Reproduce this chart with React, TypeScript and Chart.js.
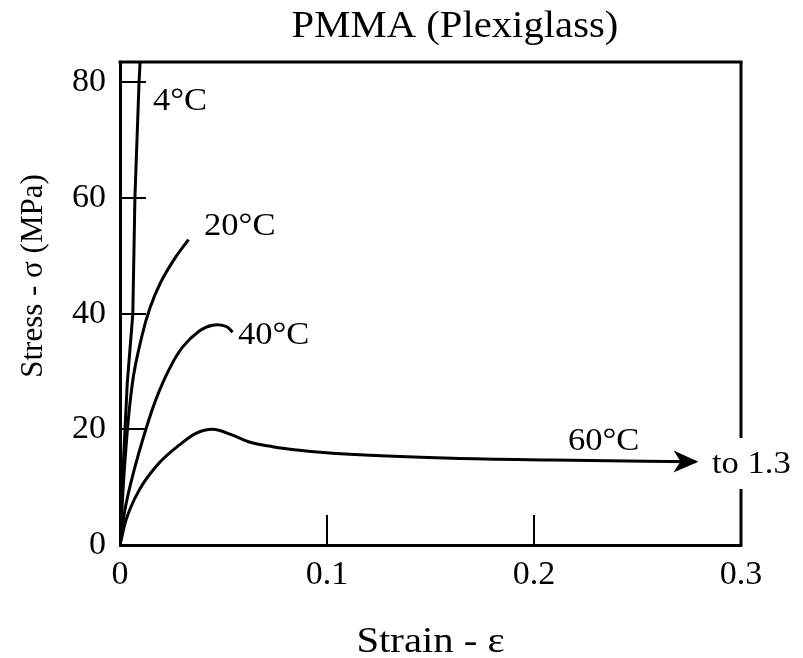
import React, { useEffect, useRef } from 'react';
import { Chart, registerables } from 'chart.js';

Chart.register(...registerables);

const FONT = "'Liberation Serif', 'Times New Roman', serif";

const chartTitle = 'PMMA (Plexiglass)';
const xAxisTitle = 'Strain - ε';
const yAxisTitle = 'Stress - σ (MPa)';

const xTickValues = [0, 0.1, 0.2, 0.3];
const xTickLabels = ['0', '0.1', '0.2', '0.3'];
const yTickValues = [0, 20, 40, 60, 80];
const yTickLabels = ['0', '20', '40', '60', '80'];
const xMax = 0.3;
const yMax = 83.5;

// 4 °C
const strain4C = [0, 0.0012, 0.0035, 0.0062, 0.0072, 0.0092, 0.0097];
const stress4C = [0, 11, 28, 40, 60, 80, 83.5];
// 20 °C
const strain20C = [0, 0.0025, 0.006, 0.0105, 0.0145, 0.0195, 0.026, 0.0331];
const stress20C = [0, 15, 28, 36, 41, 45.3, 49.3, 52.8];
// 40 °C
const strain40C = [0, 0.0025, 0.0065, 0.0125, 0.0175, 0.0235, 0.0302, 0.0383, 0.0447, 0.0512, 0.0544];
const stress40C = [0, 6.3, 12.5, 20, 25.3, 30.2, 34.2, 37, 38, 37.8, 36.8];
// 60 °C (continues "to 1.3")
const strain60C = [0, 0.0029, 0.0093, 0.019, 0.0287, 0.0367, 0.0447, 0.0544, 0.0625, 0.0737, 0.0866, 0.111, 0.1605, 0.209, 0.278];
const stress60C = [0, 4.3, 9.5, 14.2, 17.3, 19.3, 20, 19, 17.8, 17, 16.4, 15.7, 15, 14.7, 14.4];

// curve labels: text, anchor strain (left edge), anchor stress (baseline)
const labelTexts = ['4°C', '20°C', '40°C', '60°C', 'to 1.3'];
const labelStrain = [0.0159, 0.0406, 0.057, 0.2164, 0.286];
const labelStress = [75.2, 53.6, 34.75, 16.4, 12.45];

const toPoints = (xs: number[], ys: number[]) => xs.map((v, i) => ({ x: v, y: ys[i] }));

function stretchedText(ctx: any, text: string, px: number, py: number, sx: number, align: string) {
  ctx.save();
  ctx.translate(px, py);
  ctx.scale(sx, 1);
  ctx.textAlign = align;
  ctx.fillText(text, 0, 0);
  ctx.restore();
}

const decorPlugin = {
  id: 'decor',
  afterDatasetsDraw(chart: any) {
    const { ctx, chartArea, scales } = chart;
    const { left, right, top, bottom } = chartArea;
    const x = scales.x;
    const y = scales.y;
    ctx.save();
    ctx.strokeStyle = '#000';
    ctx.fillStyle = '#000';

    // inner ticks
    ctx.lineWidth = 2;
    yTickValues.forEach((v) => {
      if (v <= 0) return;
      const py = Math.round(y.getPixelForValue(v));
      ctx.beginPath();
      ctx.moveTo(left, py);
      ctx.lineTo(left + 26, py);
      ctx.stroke();
    });
    xTickValues.forEach((v) => {
      if (v <= 0 || v >= xMax) return;
      const px = Math.round(x.getPixelForValue(v));
      ctx.beginPath();
      ctx.moveTo(px, bottom);
      ctx.lineTo(px, bottom - 30);
      ctx.stroke();
    });

    // frame: top and broken right border
    ctx.lineWidth = 3;
    ctx.beginPath();
    ctx.moveTo(left - 1.5, top);
    ctx.lineTo(right + 1.5, top);
    ctx.stroke();
    const lastIdx = labelTexts.length - 1;
    const gapCenter = y.getPixelForValue(labelStress[lastIdx]) - 10;
    ctx.beginPath();
    ctx.moveTo(right, top);
    ctx.lineTo(right, gapCenter - 25);
    ctx.moveTo(right, gapCenter + 26);
    ctx.lineTo(right, bottom + 1.5);
    ctx.stroke();

    // arrowhead at the end of the 60 °C curve
    const meta = chart.getDatasetMeta(3);
    const pts = meta.data;
    const a = pts[pts.length - 1];
    const b = pts[pts.length - 2];
    const ang = Math.atan2(a.y - b.y, a.x - b.x);
    ctx.translate(a.x + 3, a.y);
    ctx.rotate(ang);
    ctx.beginPath();
    ctx.moveTo(0, 0);
    ctx.lineTo(-25, -11);
    ctx.lineTo(-18, 0);
    ctx.lineTo(-25, 11);
    ctx.closePath();
    ctx.fill();
    ctx.restore();

    // curve labels
    ctx.save();
    ctx.fillStyle = '#000';
    ctx.font = `32px ${FONT}`;
    ctx.textBaseline = 'alphabetic';
    labelTexts.forEach((t, i) => {
      stretchedText(ctx, t, x.getPixelForValue(labelStrain[i]), y.getPixelForValue(labelStress[i]), 1.08, 'left');
    });

    // titles
    ctx.font = `37px ${FONT}`;
    stretchedText(ctx, chartTitle, 455, 37, 1.1, 'center');
    ctx.font = `36px ${FONT}`;
    stretchedText(ctx, xAxisTitle, (left + right) / 2, 652, 1.13, 'center');
    ctx.translate(34, 276);
    ctx.rotate(-Math.PI / 2);
    ctx.font = `31px ${FONT}`;
    ctx.textAlign = 'center';
    ctx.textBaseline = 'middle';
    ctx.fillText(yAxisTitle, 0, 0);
    ctx.restore();
  },
};

export default function App() {
  const ref = useRef<HTMLCanvasElement | null>(null);
  useEffect(() => {
    if (!ref.current) return;
    const line = { borderColor: '#000', borderWidth: 3, pointRadius: 0, fill: false };
    const chart = new Chart(ref.current, {
      type: 'line',
      data: {
        datasets: [
          { ...line, label: '4°C', data: toPoints(strain4C, stress4C), tension: 0 },
          { ...line, label: '20°C', data: toPoints(strain20C, stress20C), tension: 0.4 },
          { ...line, label: '40°C', data: toPoints(strain40C, stress40C), tension: 0.4 },
          { ...line, label: '60°C', data: toPoints(strain60C, stress60C), cubicInterpolationMode: 'monotone' },
        ],
      } as any,
      options: {
        animation: false,
        responsive: false,
        devicePixelRatio: 1,
        layout: { padding: { top: 62, right: 62, left: 0, bottom: 0 } },
        plugins: { legend: { display: false }, tooltip: { enabled: false }, title: { display: false } },
        scales: {
          x: {
            type: 'linear',
            min: 0,
            max: xMax,
            afterFit: (s: any) => { s.height = 113; },
            afterBuildTicks: (s: any) => { s.ticks = xTickValues.map((v) => ({ value: v })); },
            ticks: {
              color: '#000',
              font: { family: FONT, size: 34 },
              padding: 10,
              autoSkip: false,
              maxRotation: 0,
              callback: (_v: any, i: number) => xTickLabels[i],
            },
            grid: { display: true, drawOnChartArea: false, drawTicks: false },
            border: { display: true, color: '#000', width: 3 },
          },
          y: {
            type: 'linear',
            min: 0,
            max: yMax,
            afterFit: (s: any) => { s.width = 120; },
            afterBuildTicks: (s: any) => { s.ticks = yTickValues.map((v) => ({ value: v })); },
            ticks: {
              color: '#000',
              font: { family: FONT, size: 34 },
              padding: 14,
              autoSkip: false,
              callback: (_v: any, i: number) => yTickLabels[i],
            },
            grid: { display: true, drawOnChartArea: false, drawTicks: false },
            border: { display: true, color: '#000', width: 3 },
          },
        },
      } as any,
      plugins: [decorPlugin],
    });
    return () => chart.destroy();
  }, []);
  return (
    <div style={{ position: 'absolute', left: 0, top: 0, width: 803, height: 658, background: '#fff' }}>
      <canvas ref={ref} width={803} height={658} style={{ display: 'block' }} />
    </div>
  );
}
